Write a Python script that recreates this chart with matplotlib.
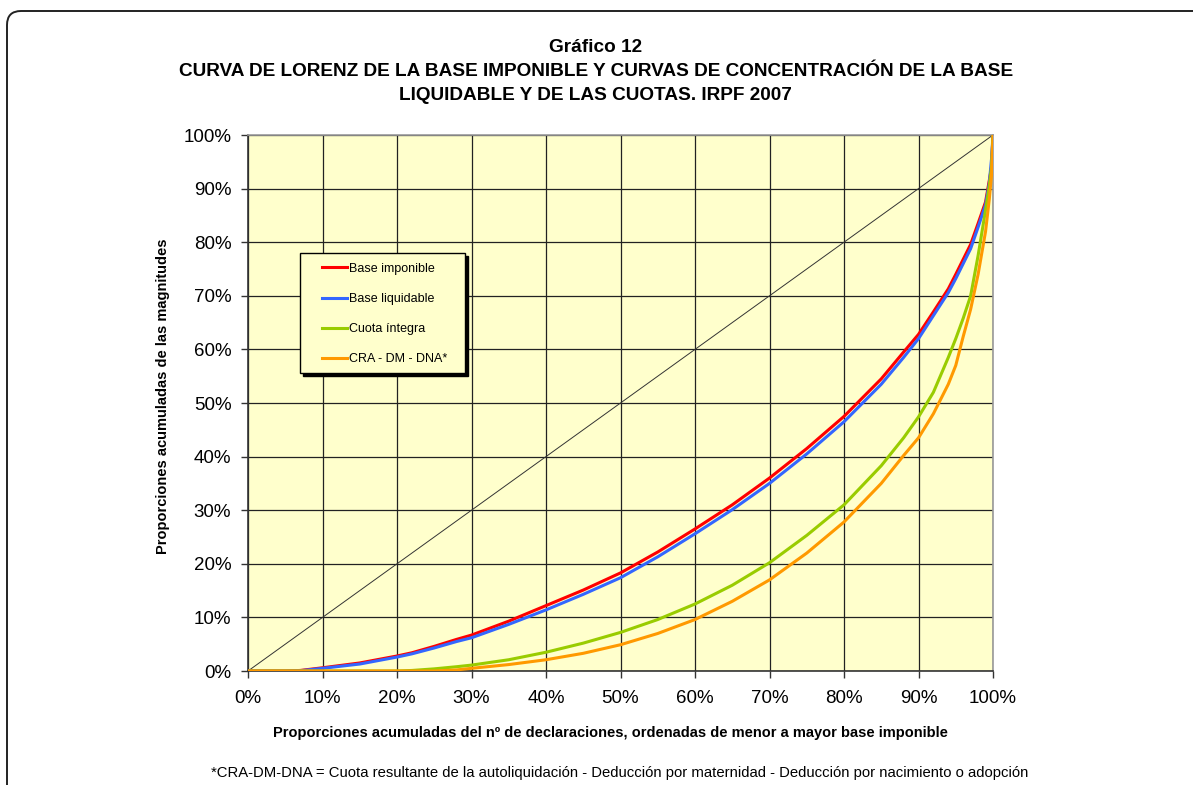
import matplotlib
matplotlib.use("Agg")
import matplotlib.pyplot as plt
from matplotlib.patches import FancyBboxPatch, Rectangle
from matplotlib.transforms import IdentityTransform, ScaledTranslation
from matplotlib.ticker import PercentFormatter

# cumulative share of returns (%), sorted by taxable base
x_pct = [0, 5, 7, 10, 15, 20, 22, 25, 28, 30, 35, 40, 45, 50, 55, 60, 65, 70,
         75, 80, 85, 88, 90, 92, 94, 95, 96, 97, 98, 99, 99.5, 99.8, 100]

base_imponible = [0, 0, 0.1, 0.6, 1.5, 2.8, 3.4, 4.6, 5.9, 6.7, 9.3, 12.2, 15.1,
                  18.3, 22.2, 26.5, 31.0, 36.0, 41.5, 47.5, 54.5, 59.5, 62.8,
                  67.0, 71.3, 74.0, 76.8, 79.6, 83.5, 87.5, 91.5, 94.0, 100]
base_liquidable = [0, 0, 0.05, 0.5, 1.3, 2.6, 3.2, 4.3, 5.5, 6.2, 8.7, 11.4, 14.3,
                   17.4, 21.3, 25.6, 30.1, 35.0, 40.5, 46.5, 53.5, 58.5, 62.0,
                   66.3, 70.6, 73.2, 76.0, 78.8, 82.8, 87.0, 91.0, 95.5, 100]
cuota_integra = [0, 0, 0, 0, 0, 0, 0.1, 0.4, 0.8, 1.1, 2.1, 3.5, 5.2, 7.2, 9.6,
                 12.5, 16.0, 20.2, 25.3, 31.0, 38.3, 43.5, 47.4, 52.0, 58.5,
                 62.0, 65.8, 70.0, 77.5, 86.0, 90.5, 94.0, 100]
cra_dm_dna = [0, 0, 0, 0, 0, 0, 0, 0, 0.2, 0.5, 1.2, 2.1, 3.3, 4.9, 7.0, 9.6,
              13.0, 17.0, 22.0, 27.8, 35.0, 40.2, 43.5, 48.0, 53.5, 57.0, 62.4,
              67.5, 74.0, 82.0, 88.0, 92.5, 100]

series = [
    ("Base imponible", base_imponible, "#FF0000"),
    ("Base liquidable", base_liquidable, "#3366FF"),
    ("Cuota íntegra", cuota_integra, "#99CC00"),
    ("CRA - DM - DNA*", cra_dm_dna, "#FF9900"),
]
ticks = list(range(0, 101, 10))

plt.rcParams["font.family"] = ["Liberation Sans", "DejaVu Sans"]

fig = plt.figure(figsize=(11.93, 7.85), dpi=100)
ax = fig.add_axes([248 / 1193, 114 / 785, 745 / 1193, 536 / 785])
ax.set_facecolor("#FFFFCC")

# equality line
ax.plot([0, 100], [0, 100], color="#333333", linewidth=0.7, zorder=2)
for label, vals, color in series:
    ax.plot(x_pct, vals, color=color, linewidth=2.2, label=label, zorder=3)

ax.set_xlim(0, 100)
ax.set_ylim(0, 100)
ax.set_xticks(ticks)
ax.set_yticks(ticks)
ax.xaxis.set_major_formatter(PercentFormatter(decimals=0))
ax.yaxis.set_major_formatter(PercentFormatter(decimals=0))
ax.tick_params(axis="both", direction="out", length=5, width=1, labelsize=13.5,
               color="#333333")
ax.tick_params(axis="x", pad=9)
ax.tick_params(axis="y", pad=7)
ax.grid(True, color="#222222", linewidth=0.9, zorder=1)
ax.set_axisbelow(True)
for side in ("top", "right"):
    ax.spines[side].set_color("#999999")
for side in ("left", "bottom"):
    ax.spines[side].set_color("#333333")
for s in ax.spines.values():
    s.set_linewidth(1.2)

# axis titles
fig.text(610 / 1193, 1 - 733 / 785,
         "Proporciones acumuladas del nº de declaraciones, ordenadas de menor a mayor base imponible",
         ha="center", va="center", fontsize=10.5, fontweight="bold")
fig.text(163 / 1193, 1 - 396.5 / 785, "Proporciones acumuladas de las magnitudes",
         ha="center", va="center", rotation=90, fontsize=10.5, fontweight="bold")

# legend box (frame + hard shadow) drawn by hand, legend entries placed inside
box = (0.0698, 0.556, 0.2215, 0.2239)
shadow_tr = ax.transAxes + ScaledTranslation(3 / 100, -3 / 100, fig.dpi_scale_trans)
ax.add_patch(Rectangle(box[:2], box[2], box[3], transform=shadow_tr,
                       facecolor="black", edgecolor="black", zorder=5))
ax.add_patch(Rectangle(box[:2], box[2], box[3], transform=ax.transAxes,
                       facecolor="#FFFFCC", edgecolor="black", linewidth=1, zorder=6))
leg = ax.legend(loc="upper left", bbox_to_anchor=(0.0993, 0.7615), borderaxespad=0,
                fontsize=9, frameon=False, handlelength=2.0, handletextpad=0.15,
                labelspacing=1.45, borderpad=0)
leg.set_zorder(7)

fig.text(0.4995, 1 - 48 / 785, "Gráfico 12", ha="center", va="center",
         fontsize=13.7, fontweight="bold")
fig.text(0.4995, 1 - 72 / 785,
         "CURVA DE LORENZ DE LA BASE IMPONIBLE Y CURVAS DE CONCENTRACIÓN DE LA BASE",
         ha="center", va="center", fontsize=13.7, fontweight="bold")
fig.text(0.4995, 1 - 96 / 785, "LIQUIDABLE Y DE LAS CUOTAS. IRPF 2007",
         ha="center", va="center", fontsize=13.7, fontweight="bold")
fig.text(620 / 1193, 1 - 773 / 785,
         "*CRA-DM-DNA = Cuota resultante de la autoliquidación - Deducción por maternidad - Deducción por nacimiento o adopción",
         ha="center", va="center", fontsize=10.7)

# rounded outer frame, cut off on the right and at the bottom
frame = FancyBboxPatch((7, -30), 1220, 785 - 11 + 30,
                       boxstyle="round,pad=0,rounding_size=14",
                       transform=IdentityTransform(), fill=False,
                       edgecolor="#222222", linewidth=1.4)
fig.add_artist(frame)

fig.savefig("out.png", dpi=100)
